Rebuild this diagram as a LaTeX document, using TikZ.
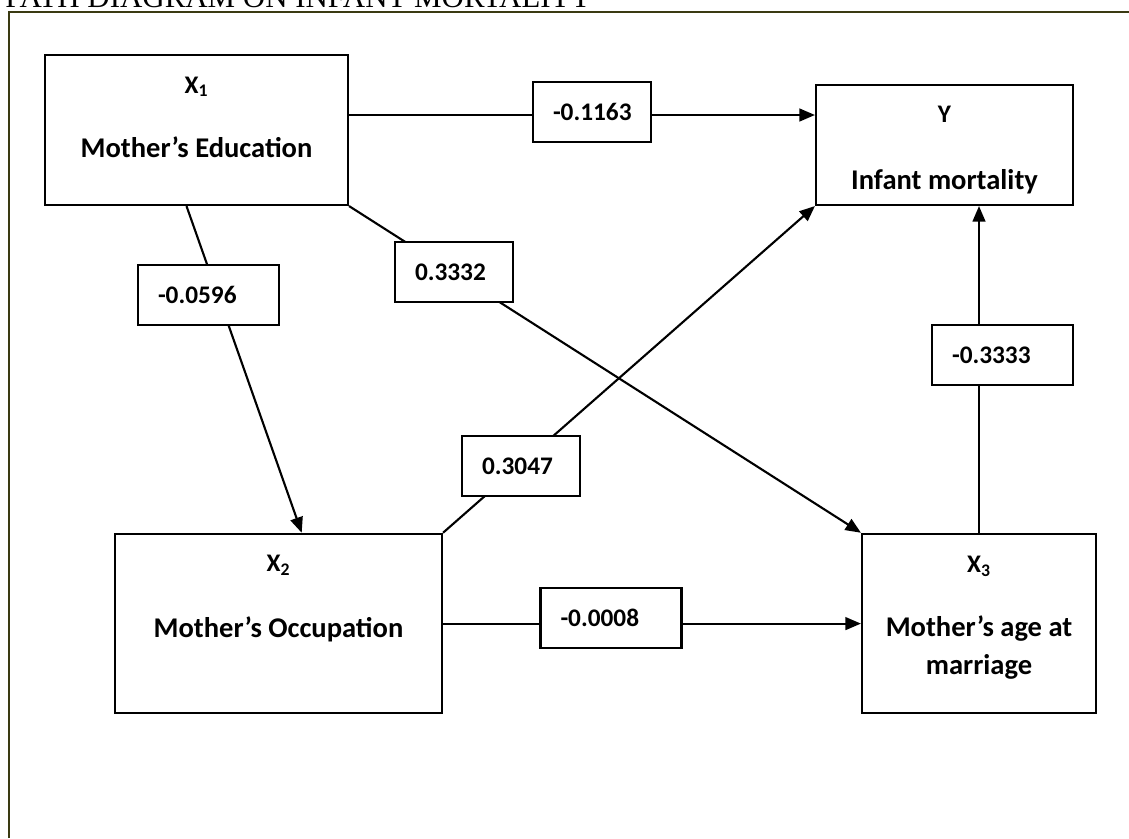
\documentclass[tikz,border=0pt]{standalone}
\usepackage{fontspec}
\setmainfont{Carlito}
\newfontfamily\titlefont{Liberation Serif}
\usetikzlibrary{arrows.meta}
\definecolor{frameolive}{RGB}{58,58,18}
\exhyphenpenalty=10000

\begin{document}
\begin{tikzpicture}[
  >={Triangle[length=11pt,width=9pt]},
  var/.style={draw, line width=1.5pt, inner sep=0pt},
  sym/.style={anchor=base, inner sep=0pt, font=\fontsize{18}{22}\selectfont\bfseries},
  vname/.style={anchor=base, inner sep=0pt, font=\fontsize{20.3}{24}\selectfont\bfseries},
  coef/.style={draw, line width=1.5pt, fill=white, align=left, text width=1.95cm, inner xsep=0.5cm, minimum height=1.5cm, font=\fontsize{18}{22}\selectfont\bfseries},
  coefw/.style={coef, text width=2.525cm},
  arr/.style={->, line width=1.5pt}
]
\useasboundingbox (0,0) rectangle (28.225,-20.95);
\draw[frameolive, line width=0.05cm] (0.225,-20.95) -- (0.225,-0.3) -- (28.225,-0.3);
\node[anchor=base west, inner sep=0pt, font=\titlefont\fontsize{22}{26}\selectfont] (title) at (0.125,-0.175) {PATH DIAGRAM ON INFANT MORTALITY};

\node[var, minimum width=7.575cm, minimum height=3.75cm] (x1) at (4.9125,-3.25) {};
\node[var, minimum width=6.425cm, minimum height=2.99cm] (y) at (23.6125,-3.63) {};
\node[var, minimum width=8.175cm, minimum height=4.49cm] (x2) at (6.9625,-15.59) {};
\node[var, minimum width=5.85cm, minimum height=4.49cm] (x3) at (24.475,-15.59) {};

\node[sym] (x1sym) at ([yshift=-0.98cm]x1.north) {X\textsubscript{1}};
\node[vname] (x1name) at ([yshift=-2.6cm]x1.north) {Mother’s Education};
\node[sym] (ysym) at ([yshift=-0.95cm]y.north) {Y};
\node[vname] (yname) at ([yshift=-2.64cm]y.north) {Infant mortality};
\node[sym] (x2sym) at ([yshift=-0.975cm]x2.north) {X\textsubscript{2}};
\node[vname] (x2name) at ([yshift=-2.62cm]x2.north) {Mother’s Occupation};
\node[sym] (x3sym) at ([yshift=-1.0cm]x3.north) {X\textsubscript{3}};
\node[vname] (x3name) at ([yshift=-2.6cm]x3.north) {Mother’s age at};
\node[vname] (x3name2) at ([yshift=-3.55cm]x3.north) {marriage};

\coordinate (e1) at ([yshift=0.375cm]x1.east);
\draw[arr] (e1) -- (e1 -| y.west);
\draw[arr] ([xshift=-0.25cm]x1.south) -- ([xshift=0.58cm]x2.north);
\draw[arr] (x1.south east) -- (x3.north west);
\draw[arr] (x2.north east) -- (y.south west);
\draw[arr] (x2.east) -- (x3.west);
\draw[arr] (x3.north) -- (x3.north |- y.south);

\node[coef] (c1163) at (14.8,-2.8) {-0.1163};
\node[coef] (c3332) at (11.35,-6.8) {0.3332};
\node[coefw] (c0596) at (5.2125,-7.375) {-0.0596};
\node[coefw] (c3333) at (25.0625,-8.875) {-0.3333};
\node[coef] (c3047) at (13.025,-11.65) {0.3047};
\node[coefw] (c0008) at (15.275,-15.45) {-0.0008};
\end{tikzpicture}
\end{document}
